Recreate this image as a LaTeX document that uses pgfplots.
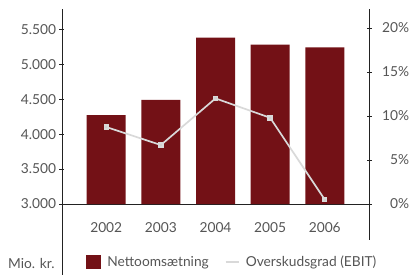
\documentclass[border=0pt]{standalone}
\usepackage{pgfplots}
\pgfplotsset{compat=1.18}
\usepackage{fontspec}
\setmainfont{Lato}
\definecolor{barred}{HTML}{731116}
\definecolor{linegray}{HTML}{D9D9D9}
\definecolor{txt}{HTML}{555555}
\definecolor{axl}{HTML}{222222}
\newcommand{\fs}{\fontsize{13.8}{16}\selectfont}
\begin{document}
\begin{tikzpicture}
\path[use as bounding box] (-62bp,-71bp) rectangle (349bp,204bp);
\pgfplotsset{
  common/.style={
    at={(0,0)}, anchor=south west,
    scale only axis, width=307bp, height=195bp,
    xmin=-0.81, xmax=4.81,
    tick align=outside, major tick length=5bp,
    tick style={axl, line width=0.8pt},
    axis line style={axl, line width=0.8pt},
    /pgf/number format/assume math mode=true,
    tick label style={font=\fs, text=txt},
    clip=false,
  }
}
\begin{axis}[common,
  ymin=3000, ymax=5790,
  axis y line=left, axis x line=bottom,
  x axis line style={-}, y axis line style={-},
  xtick={0,1,2,3,4}, xticklabels={2002,2003,2004,2005,2006},
  xtick style={draw=none},
  xticklabel style={yshift=-13bp},
  ytick={3000,3500,4000,4500,5000,5500},
  yticklabel style={/pgf/number format/1000 sep={.}},
  legend style={at={(axis description cs:0.069,-0.297)}, anchor=west, draw=none, fill=none,
    legend columns=2, font=\fs, text=txt,
    /tikz/every even column/.append style={column sep=14bp}},
  legend cell align=left,
]
\addplot[ybar, bar width=39bp, fill=barred, draw=none, bar shift=0pt,
  area legend, legend image code/.code={\fill[barred] (0bp,-7bp) rectangle (14.5bp,7bp); \path (19bp,0bp);}]
  coordinates {(0,4270) (1,4490) (2,5380) (3,5280) (4,5240)};
\addlegendentry{Nettoomsætning}
\addlegendimage{legend image code/.code={\draw[linegray, line width=1.7pt] (0bp,0bp) -- (13bp,0bp); \path (18bp,0bp);}}
\addlegendentry{Overskudsgrad (EBIT)}
\end{axis}
\begin{axis}[common,
  ymin=0, ymax=22.16,
  axis y line=right, axis x line=none,
  y axis line style={-},
  ytick={0,5,10,15,20},
  yticklabel={\pgfmathprintnumber{\tick}\%},
  yticklabel style={anchor=west, inner sep=0pt, text width=35bp, align=right, xshift=2.5bp},
]
\addplot[linegray, line width=1.7pt, mark=square*, mark size=1.9pt, mark options={fill=linegray!90!gray, draw=none}]
  coordinates {(0,8.75) (1,6.7) (2,12.0) (3,9.8) (4,0.5)};
\end{axis}
\draw[axl, line width=0.8pt] (0bp,0bp) -- (0bp,-71bp);
\draw[axl, line width=0.8pt] (307bp,0bp) -- (307bp,-36bp);
\node[anchor=west, text=txt, font=\fs, inner sep=0pt] at (-54bp,-59bp) {Mio. kr.};
\end{tikzpicture}
\end{document}
